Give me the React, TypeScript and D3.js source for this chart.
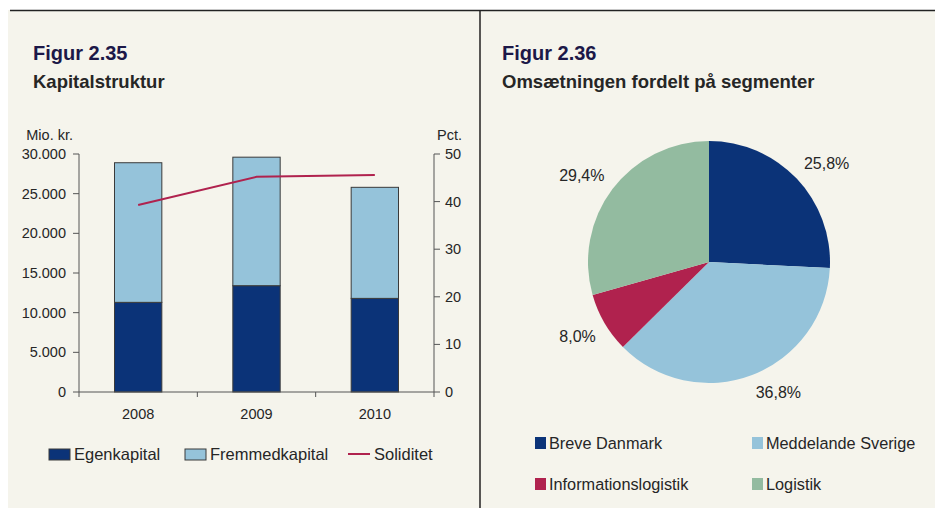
import React from "react";
import * as d3 from "d3";

const years = ["2008", "2009", "2010"];
const egenkapital = [11300, 13400, 11800];
const fremmedkapital = [17600, 16200, 14000];
const soliditet = [39.3, 45.2, 45.6];
const leftTicks = [0, 5000, 10000, 15000, 20000, 25000, 30000];
const rightTicks = [0, 10, 20, 30, 40, 50];

const segments = ["Breve Danmark", "Meddelande Sverige", "Informationslogistik", "Logistik"];
const segmentShares = [25.8, 36.8, 8.0, 29.4];

const NAVY = "#0b3378";
const LIGHT = "#95c3da";
const CRIMSON = "#b0224e";
const GREEN = "#93bba0";
const BG = "#f5f4ec";
const TEXT = "#262626";
const FONT = "'Liberation Sans', Arial, sans-serif";

const fmt = (v: number) => d3.format(",")(v).replace(/,/g, ".");

export default function App() {
  const x = d3.scaleBand<string>().domain(years).range([79, 434]).paddingInner(0.6).paddingOuter(0.3);
  const yL = d3.scaleLinear().domain([0, 30000]).range([392, 154]);
  const yR = d3.scaleLinear().domain([0, 50]).range([392, 154]);
  const step = x.step();
  const catBounds = [0, 1, 2, 3].map((i) => 79 + i * step);

  const line = d3
    .line<number>()
    .x((_, i) => (x(years[i]) as number) + x.bandwidth() / 2)
    .y((d) => yR(d));

  const pieColors = [NAVY, LIGHT, CRIMSON, GREEN];
  const pie = d3.pie<number>().sort(null).value((d) => d)(segmentShares);
  const R = 121;
  const cx = 709;
  const cy = 262;
  const arc = d3.arc<d3.PieArcDatum<number>>().innerRadius(0).outerRadius(R);
  const labelArc = d3.arc<d3.PieArcDatum<number>>().innerRadius(R + 10).outerRadius(R + 10);

  return (
    <svg width={935} height={508} style={{ position: "absolute", left: 0, top: 0 }} fontFamily={FONT}>
      <rect x={0} y={0} width={935} height={508} fill="#ffffff" />
      <rect x={8} y={10} width={927} height={498} fill={BG} />
      <line x1={10} x2={935} y1={10.5} y2={10.5} stroke="#222" strokeWidth={1.5} />
      <line x1={480} x2={480} y1={10} y2={508} stroke="#222" strokeWidth={1.5} />

      {/* Left panel titles */}
      <text x={33} y={60} fontSize={20} fontWeight="bold" fill="#1c1848">Figur 2.35</text>
      <text x={33} y={88} fontSize={18.5} fontWeight="bold" fill={TEXT}>Kapitalstruktur</text>

      <text x={73} y={140} fontSize={14.5} fill={TEXT} textAnchor="end">Mio. kr.</text>
      <text x={462} y={140} fontSize={14.5} fill={TEXT} textAnchor="end">Pct.</text>

      {/* Bars */}
      {years.map((yr, i) => {
        const bx = x(yr) as number;
        const w = x.bandwidth();
        const e = egenkapital[i];
        const f = fremmedkapital[i];
        return (
          <g key={yr}>
            <rect x={bx} y={yL(e)} width={w} height={yL(0) - yL(e)} fill={NAVY} stroke="#3a3a3a" strokeWidth={1} />
            <rect x={bx} y={yL(e + f)} width={w} height={yL(e) - yL(e + f)} fill={LIGHT} stroke="#3a3a3a" strokeWidth={1} />
          </g>
        );
      })}

      {/* Left axis */}
      <line x1={79} x2={79} y1={154} y2={392} stroke="#555" strokeWidth={1} />
      {leftTicks.map((t) => (
        <g key={t}>
          <line x1={73} x2={79} y1={yL(t)} y2={yL(t)} stroke="#555" />
          <text x={66} y={yL(t)} dy="0.35em" fontSize={14.5} fill={TEXT} textAnchor="end">{fmt(t)}</text>
        </g>
      ))}
      {/* Right axis */}
      <line x1={434} x2={434} y1={154} y2={392} stroke="#555" strokeWidth={1} />
      {rightTicks.map((t) => (
        <g key={t}>
          <line x1={434} x2={440} y1={yR(t)} y2={yR(t)} stroke="#555" />
          <text x={445} y={yR(t)} dy="0.35em" fontSize={14.5} fill={TEXT}>{t}</text>
        </g>
      ))}
      {/* X axis */}
      <line x1={79} x2={434} y1={392} y2={392} stroke="#555" strokeWidth={1} />
      {catBounds.map((b, i) => (
        <line key={i} x1={b} x2={b} y1={392} y2={397} stroke="#555" />
      ))}
      {years.map((yr) => (
        <text key={yr} x={(x(yr) as number) + x.bandwidth() / 2} y={414} dy="0.35em" fontSize={14.5} fill={TEXT} textAnchor="middle">{yr}</text>
      ))}

      {/* Line */}
      <path d={line(soliditet) || ""} fill="none" stroke={CRIMSON} strokeWidth={2} />

      {/* Left legend */}
      <rect x={49} y={449} width={21} height={11} fill={NAVY} stroke="#3a3a3a" strokeWidth={1} />
      <text x={74} y={454.5} dy="0.35em" fontSize={16.5} fill={TEXT}>Egenkapital</text>
      <rect x={185} y={449} width={21} height={11} fill={LIGHT} stroke="#3a3a3a" strokeWidth={1} />
      <text x={210} y={454.5} dy="0.35em" fontSize={16.5} fill={TEXT}>Fremmedkapital</text>
      <line x1={348} x2={370} y1={454} y2={454} stroke={CRIMSON} strokeWidth={2} />
      <text x={374} y={454.5} dy="0.35em" fontSize={16.5} fill={TEXT}>Soliditet</text>

      {/* Right panel titles */}
      <text x={502} y={60} fontSize={20} fontWeight="bold" fill="#1c1848">Figur 2.36</text>
      <text x={502} y={88} fontSize={18.5} fontWeight="bold" fill={TEXT}>Omsætningen fordelt på segmenter</text>

      {/* Pie */}
      <g transform={`translate(${cx},${cy})`}>
        {pie.map((p, i) => (
          <path key={i} d={arc(p) || ""} fill={pieColors[i]} />
        ))}
        {pie.map((p, i) => {
          const [ax, ay] = labelArc.centroid(p);
          const ty = ay > 0 ? ay + 8 : ay - 8;
          return (
            <text key={i} x={ax} y={ty} dy="0.35em" fontSize={16} fill={TEXT} textAnchor={ax > 0 ? "start" : "end"}>
              {d3.format(".1f")(p.data).replace(".", ",")}%
            </text>
          );
        })}
      </g>

      {/* Right legend */}
      {segments.map((s, i) => {
        const col = i % 2;
        const row = Math.floor(i / 2);
        const lx = col === 0 ? 535 : 752;
        const ly = row === 0 ? 443 : 484;
        return (
          <g key={s}>
            <rect x={lx} y={ly - 6} width={11} height={12} fill={pieColors[i]} />
            <text x={lx + 14} y={ly + 0.5} dy="0.35em" fontSize={16.3} fill={TEXT}>{s}</text>
          </g>
        );
      })}
    </svg>
  );
}
